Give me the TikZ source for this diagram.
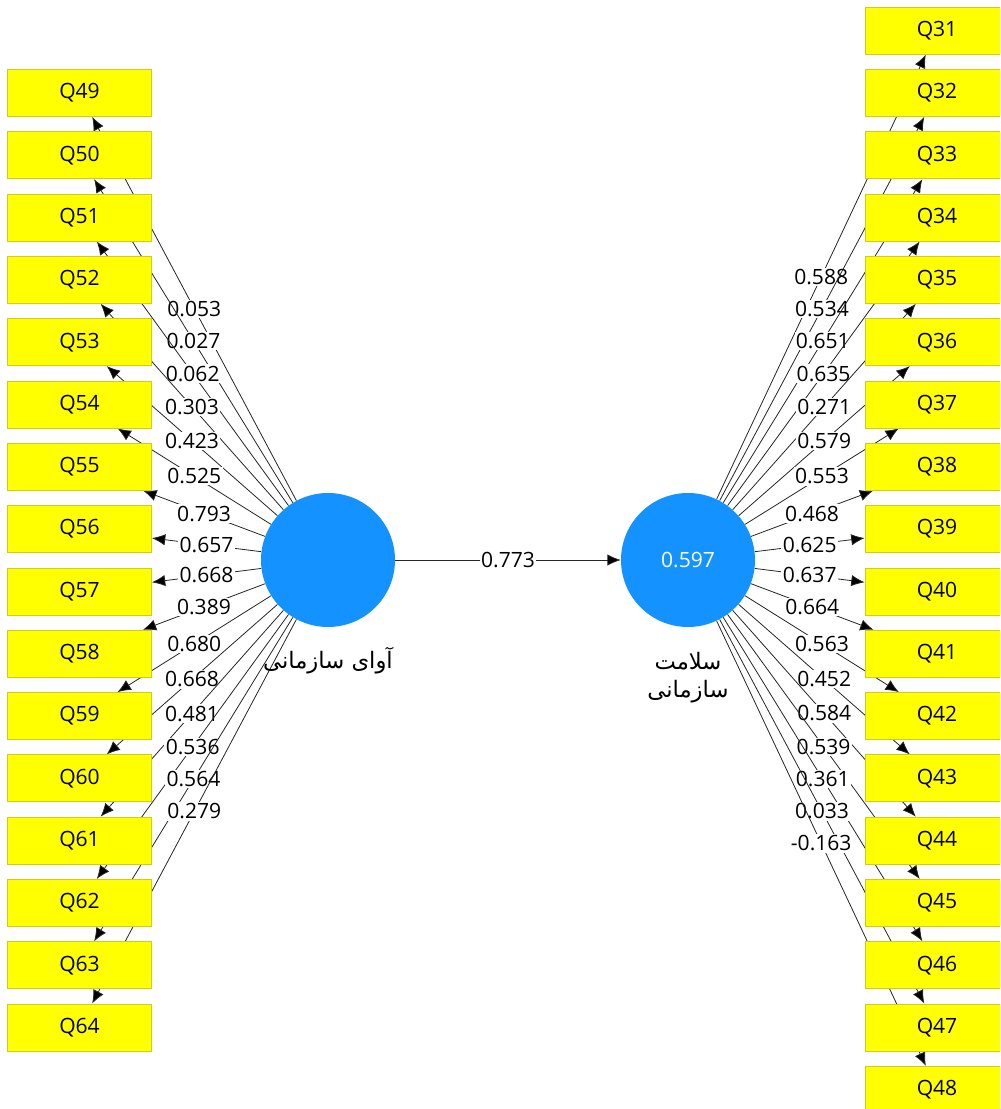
\documentclass[tikz,border=0pt]{standalone}
\usepackage{fontspec}
\setmainfont{Open Sans}
\newfontfamily\persianfont[Script=Arabic]{DejaVu Sans}
\TeXXeTstate=1
\usetikzlibrary{arrows.meta,backgrounds}

\definecolor{lvblue}{RGB}{20,146,255}
\definecolor{itemyellow}{RGB}{255,255,0}
\definecolor{itemborder}{RGB}{205,205,30}

\tikzset{
  latent/.style={circle, fill=lvblue, minimum size=100.5pt, inner sep=0pt, text=white},
  item/.style={rectangle, fill=itemyellow, draw=itemborder, line width=0.6pt,
    minimum width=108pt, minimum height=35.25pt, inner sep=0pt},
  load/.style={draw=black!85, line width=0.6pt, -{Latex[length=10pt,width=8.5pt,fill=black]}},
  val/.style={fill=white, inner sep=1pt},
  fa/.style={font=\persianfont\fontsize{17}{20}\selectfont},
}

\begin{document}
\begin{tikzpicture}[x=0.75pt, y=-0.75pt, font=\fontsize{15.8}{19}\selectfont]
  \clip (0,0) rectangle (1000,1109);

  \node[latent] (voice) at (328,560) {};
  \node[latent] (health) at (688,560) {0.597};
  \node[fa] (voicename) at (328,661) {\beginR آوای سازمانی\endR};
  \node[fa] (healthname) at (688,661) {\beginR سلامت\endR};
  \node[fa] (healthname2) at (688,692) {\beginR سازمانی\endR};

  \draw[load] (voice) -- node[val] {0.773} (health);

  % left block
  \foreach \num/\ld [count=\i from 0] in {49/0.053, 50/0.027, 51/0.062, 52/0.303,
      53/0.423, 54/0.525, 55/0.793, 56/0.657, 57/0.668, 58/0.389, 59/0.680,
      60/0.668, 61/0.481, 62/0.536, 63/0.564, 64/0.279} {
    \node[item] (q\num) at (79.5, 93+62.3*\i) {Q\num};
    \begin{scope}[on background layer]
      \draw[load] (voice) -- node[val] {\ld} (q\num);
    \end{scope}
  }

  % right block
  \foreach \num/\ld [count=\i from 0] in {31/0.588, 32/0.534, 33/0.651, 34/0.635,
      35/0.271, 36/0.579, 37/0.553, 38/0.468, 39/0.625, 40/0.637, 41/0.664,
      42/0.563, 43/0.452, 44/0.584, 45/0.539, 46/0.361, 47/0.033, 48/-0.163} {
    \node[item] (q\num) at (937, 30.7+62.3*\i) {Q\num};
    \begin{scope}[on background layer]
      \draw[load] (health) -- node[val] {\ld} (q\num);
    \end{scope}
  }
\end{tikzpicture}
\end{document}
